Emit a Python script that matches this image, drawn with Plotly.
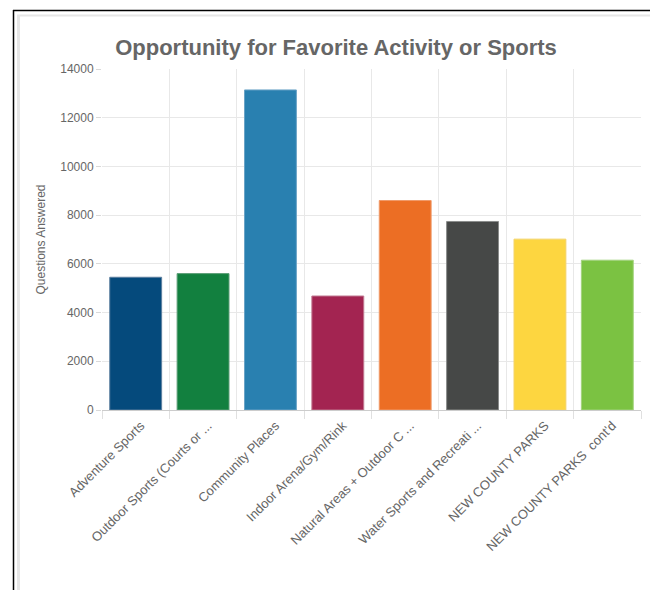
import plotly.graph_objects as go

categories = [
    "Adventure Sports",
    "Outdoor Sports (Courts or ...",
    "Community Places",
    "Indoor Arena/Gym/Rink",
    "Natural Areas + Outdoor C ...",
    "Water Sports and Recreati ...",
    "NEW COUNTY PARKS",
    "NEW COUNTY PARKS  cont'd",
]
values = [5450, 5600, 13140, 4680, 8600, 7740, 7015, 6150]
colors = ["#054a7c", "#12803f", "#2980b0", "#a32451",
          "#ec6e24", "#464847", "#fdd640", "#7bc242"]
borders = ["#5d7f9f", "#5d9f78", "#6aa3c6", "#c07891",
           "#f09a6a", "#8a8c8b", "#f3d36a", "#a3d27e"]

# page body has an 8px margin; figure sized to fill the rest of the window
OFF = 8
W, H = 658 - OFF, 590 - OFF
L, R, T, B = 102 - OFF, 17, 69 - OFF, 180
PW, PH = W - L - R, H - T - B


def px(x):
    return (x - OFF - L) / PW


def py(y):
    return (H - B - (y - OFF)) / PH


fig = go.Figure(go.Bar(
    x=categories, y=values,
    marker=dict(color=colors, line=dict(color=borders, width=1)),
    width=0.77,
))

shapes = [
    dict(type="line", xref="paper", yref="paper", x0=px(13), x1=px(660), y0=py(10.5), y1=py(10.5),
         line=dict(color="#000000", width=1.5)),
    dict(type="line", xref="paper", yref="paper", x0=px(13.5), x1=px(13.5), y0=py(10), y1=py(600),
         line=dict(color="#000000", width=1.5)),
    dict(type="line", xref="paper", yref="paper", x0=px(17), x1=px(656), y0=py(15.5), y1=py(15.5),
         line=dict(color="#e6e6e6", width=2)),
    dict(type="line", xref="paper", yref="paper", x0=px(18.5), x1=px(18.5), y0=py(15), y1=py(600),
         line=dict(color="#e6e6e6", width=3)),
    dict(type="line", xref="paper", yref="paper", x0=px(656.5), x1=px(656.5), y0=py(15), y1=py(600),
         line=dict(color="#e6e6e6", width=3)),
]

fig.update_layout(
    width=W, height=H,
    margin=dict(l=L, r=R, t=T, b=B, autoexpand=False),
    paper_bgcolor="white", plot_bgcolor="white",
    font=dict(family="Liberation Sans, Arial, sans-serif", color="#666666", size=12),
    title=dict(text="<b>Opportunity for Favorite Activity or Sports</b>",
               x=(336 - OFF) / W, xanchor="center", y=1 - (47 - OFF) / H, yanchor="middle",
               font=dict(size=22, color="#666666")),
    showlegend=False,
    shapes=shapes,
    xaxis=dict(
        tickangle=-45, tickson="boundaries", ticks="outside", ticklen=8,
        tickcolor="#e0e0e0", showgrid=True, gridcolor="#e8e8e8",
        showline=True, linecolor="#cccccc", linewidth=1,
        tickfont=dict(size=13, color="#666666"),
        ticklabelshift=5, ticklabelstandoff=2,
    ),
    yaxis=dict(
        range=[0, 14000], dtick=2000, tickformat="d", ticks="outside", ticklen=5,
        tickcolor="#d9d9d9", showgrid=True, gridcolor="#e8e8e8",
        zeroline=False, showline=False,
        tickfont=dict(size=12, color="#666666"),
        title=dict(text="Questions Answered", font=dict(size=12, color="#666666"), standoff=12),
    ),
)

fig.write_html("out.html")
